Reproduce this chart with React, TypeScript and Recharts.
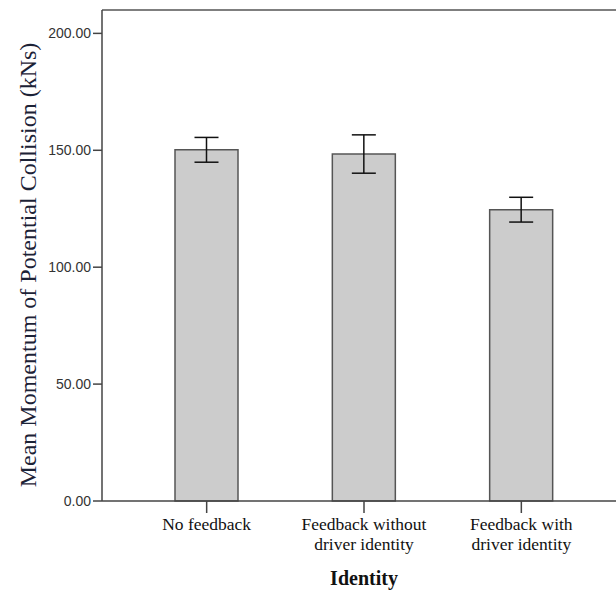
import { Bar, BarChart, ErrorBar, ReferenceLine, XAxis, YAxis } from 'recharts'

const categories = ['No feedback', 'Feedback without driver identity', 'Feedback with driver identity']
const tickLines = [['No feedback'], ['Feedback without', 'driver identity'], ['Feedback with', 'driver identity']]
const means = [150.2, 148.4, 124.6]
const errors = [5.3, 8.2, 5.3]
const yTicks = [0, 50, 100, 150, 200]

const data = categories.map((name, i) => ({ name, mean: means[i], err: errors[i] }))

const serif = '"Liberation Serif", "Times New Roman", serif'

function CategoryTick({ x, y, index }: any) {
  const lines = tickLines[index] ?? []
  return (
    <g transform={`translate(${x},${y})`}>
      {lines.map((l, i) => (
        <text key={i} x={0} y={13 + i * 20} textAnchor="middle" fontFamily={serif} fontSize={17.5} fill="#111">
          {l}
        </text>
      ))}
    </g>
  )
}

export default function App() {
  return (
    <div style={{ position: 'fixed', top: 0, left: 0, width: 616, height: 594, overflow: 'hidden', background: '#fff' }}>
      <style>{'html,body{margin:0;overflow:hidden}'}</style>
      <BarChart width={640} height={594} data={data} margin={{ top: 10, right: 14, left: 0, bottom: 0 }}>
        <XAxis
          dataKey="name"
          height={93}
          padding={{ left: 26, right: 26 }}
          tickSize={12}
          tickMargin={4}
          stroke="#444"
          strokeWidth={1.5}
          tick={<CategoryTick />}
          interval={0}
          label={{
            content: ({ viewBox }: any) => (
              <text
                x={viewBox.x + viewBox.width / 2}
                y={585}
                textAnchor="middle"
                fontFamily={serif}
                fontWeight="bold"
                fontSize={20}
                fill="#111"
              >
                Identity
              </text>
            ),
          }}
        />
        <YAxis
          width={102}
          domain={[0, 210]}
          ticks={yTicks}
          tickFormatter={(v: number) => v.toFixed(2)}
          tickSize={9}
          stroke="#444"
          strokeWidth={1.5}
          tick={{ fill: '#333', fontSize: 14, fontFamily: '"Liberation Sans", Arial, sans-serif' }}
          label={{
            content: () => (
              <text
                x={36}
                y={265}
                transform="rotate(-90 36 265)"
                textAnchor="middle"
                fontFamily={serif}
                fontSize={24}
                fill="#1c2236"
              >
                Mean Momentum of Potential Collision (kNs)
              </text>
            ),
          }}
        />
        <ReferenceLine y={210} stroke="#555" strokeWidth={1.5} />
        <Bar dataKey="mean" fill="#cccccc" stroke="#555" strokeWidth={1.5} barSize={63} isAnimationActive={false}>
          <ErrorBar dataKey="err" direction="y" width={12} stroke="#111" strokeWidth={1.5} />
        </Bar>
      </BarChart>
    </div>
  )
}
